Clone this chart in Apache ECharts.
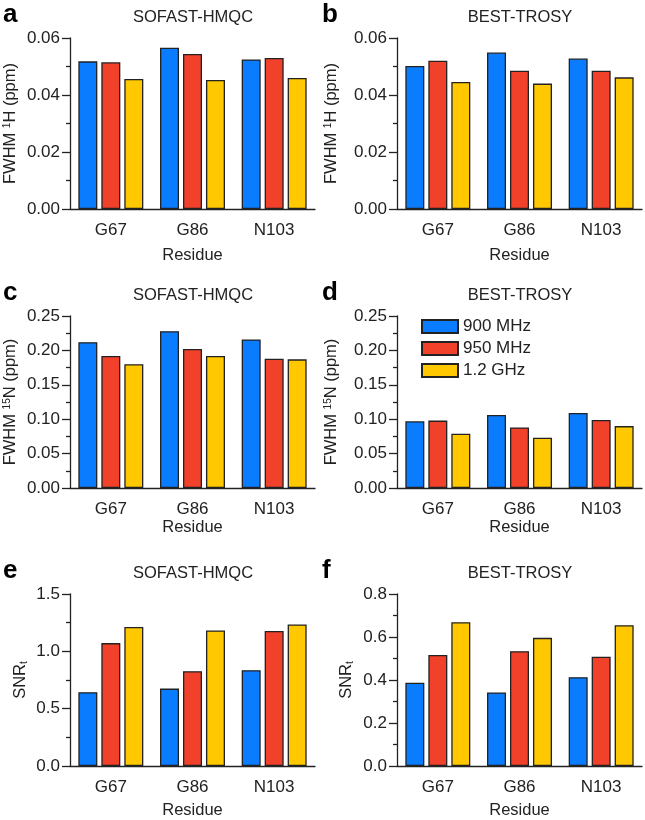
<!DOCTYPE html>
<html>
<head>
<meta charset="utf-8">
<script src="https://cdn.jsdelivr.net/npm/echarts@6/dist/echarts.min.js"></script>
<style>
  html, body { margin: 0; padding: 0; background: #fff; }
  #chart { width: 645px; height: 820px; }
</style>
</head>
<body>
<div id="chart"></div>
<script>
// categories / legend
const residues = ['G67', 'G86', 'N103']
const fields = ['900 MHz', '950 MHz', '1.2 GHz']

// a: SOFAST-HMQC, FWHM 1H (ppm)
const hmqcH1_900 = [0.0518, 0.0566, 0.0525]
const hmqcH1_950 = [0.0515, 0.0544, 0.0530]
const hmqcH1_1200 = [0.0456, 0.0453, 0.0460]
// b: BEST-TROSY, FWHM 1H (ppm)
const trosyH1_900 = [0.0502, 0.0549, 0.0528]
const trosyH1_950 = [0.0520, 0.0485, 0.0485]
const trosyH1_1200 = [0.0446, 0.0440, 0.0462]
// c: SOFAST-HMQC, FWHM 15N (ppm)
const hmqcN15_900 = [0.212, 0.228, 0.216]
const hmqcN15_950 = [0.192, 0.202, 0.188]
const hmqcN15_1200 = [0.180, 0.192, 0.187]
// d: BEST-TROSY, FWHM 15N (ppm)
const trosyN15_900 = [0.097, 0.106, 0.109]
const trosyN15_950 = [0.098, 0.088, 0.099]
const trosyN15_1200 = [0.079, 0.073, 0.090]
// e: SOFAST-HMQC, SNRt
const hmqcSnr_900 = [0.644, 0.675, 0.836]
const hmqcSnr_950 = [1.072, 0.827, 1.177]
const hmqcSnr_1200 = [1.212, 1.182, 1.235]
// f: BEST-TROSY, SNRt
const trosySnr_900 = [0.387, 0.342, 0.413]
const trosySnr_950 = [0.516, 0.534, 0.508]
const trosySnr_1200 = [0.669, 0.596, 0.655]

// y ticks per panel
const yTicksH1 = [0, 0.02, 0.04, 0.06]
const yTicksN15 = [0, 0.05, 0.10, 0.15, 0.20, 0.25]
const yTicksSnrHmqc = [0, 0.5, 1.0, 1.5]
const yTicksSnrTrosy = [0, 0.2, 0.4, 0.6, 0.8]

const colors = ['#0a7cff', '#f2412a', '#ffc800']
const font = 'Liberation Sans, Arial, Helvetica, sans-serif'
const ink = '#222'

const panels = [
  { letter: 'a', title: 'SOFAST-HMQC', left: 70, top: 38, height: 171, ticks: yTicksH1, digits: 2,
    yName: 'FWHM {sup|1}H (ppm)', yGap: 51, xGap: 38, data: [hmqcH1_900, hmqcH1_950, hmqcH1_1200] },
  { letter: 'b', title: 'BEST-TROSY', left: 397, top: 38, height: 171, ticks: yTicksH1, digits: 2,
    yName: 'FWHM {sup|1}H (ppm)', yGap: 57, xGap: 38, data: [trosyH1_900, trosyH1_950, trosyH1_1200] },
  { letter: 'c', title: 'SOFAST-HMQC', left: 70, top: 316, height: 172, ticks: yTicksN15, digits: 2,
    yName: 'FWHM {sup|15}N (ppm)', yGap: 51, xGap: 30, data: [hmqcN15_900, hmqcN15_950, hmqcN15_1200] },
  { letter: 'd', title: 'BEST-TROSY', left: 397, top: 316, height: 172, ticks: yTicksN15, digits: 2,
    yName: 'FWHM {sup|15}N (ppm)', yGap: 57, xGap: 30, data: [trosyN15_900, trosyN15_950, trosyN15_1200] },
  { letter: 'e', title: 'SOFAST-HMQC', left: 70, top: 594, height: 172, ticks: yTicksSnrHmqc, digits: 1,
    yName: 'SNR{sub|t}', yGap: 41, xGap: 36, data: [hmqcSnr_900, hmqcSnr_950, hmqcSnr_1200] },
  { letter: 'f', title: 'BEST-TROSY', left: 397, top: 594, height: 172, ticks: yTicksSnrTrosy, digits: 1,
    yName: 'SNR{sub|t}', yGap: 42, xGap: 36, data: [trosySnr_900, trosySnr_950, trosySnr_1200] }
]

const chart = echarts.init(document.getElementById('chart'), null, { renderer: 'canvas' })

const grid = []
const xAxis = []
const yAxis = []
const series = []
const graphic = []

panels.forEach((p, i) => {
  grid.push({ left: p.left, top: p.top, width: 245, height: p.height })

  xAxis.push({
    type: 'category',
    gridIndex: i,
    data: residues,
    name: 'Residue',
    nameLocation: 'middle',
    nameGap: p.xGap,
    nameTextStyle: { fontFamily: font, fontSize: 16.5, color: ink },
    axisLine: { lineStyle: { color: ink, width: 1.3 } },
    axisTick: { alignWithLabel: true, length: 8, lineStyle: { color: ink, width: 1.3 } },
    axisLabel: { margin: 13, fontFamily: font, fontSize: 17, color: ink }
  })

  const step = p.ticks[1] - p.ticks[0]
  yAxis.push({
    type: 'value',
    gridIndex: i,
    min: p.ticks[0],
    max: p.ticks[p.ticks.length - 1],
    interval: step,
    name: p.yName,
    nameLocation: 'middle',
    nameGap: p.yGap,
    nameRotate: 90,
    nameTextStyle: {
      fontFamily: font, fontSize: 16.5, color: ink,
      rich: {
        sup: { fontFamily: font, fontSize: 10, color: ink, verticalAlign: 'top', lineHeight: 16 },
        sub: { fontFamily: font, fontSize: 10, color: ink, verticalAlign: 'bottom', padding: [7, 0, 0, 0] }
      }
    },
    axisLine: { show: true, lineStyle: { color: ink, width: 1.3 } },
    axisTick: { show: true, length: 8, lineStyle: { color: ink, width: 1.3 } },
    minorTick: { show: true, splitNumber: 2, length: 4, lineStyle: { color: ink, width: 1.3 } },
    splitLine: { show: false },
    axisLabel: {
      margin: 10, fontFamily: font, fontSize: 17, color: ink,
      formatter: v => v.toFixed(p.digits)
    }
  })

  p.data.forEach((vals, k) => {
    series.push({
      name: fields[k],
      type: 'bar',
      xAxisIndex: i,
      yAxisIndex: i,
      data: vals,
      barWidth: 19,
      barGap: '21%',
      itemStyle: { color: colors[k], borderColor: ink, borderWidth: 1.3 },
      emphasis: { disabled: true }
    })
  })

  // panel letter and title
  graphic.push({
    type: 'text',
    left: p.left < 200 ? 3 : 322,
    top: p.top - 36,
    style: { text: p.letter, font: 'bold 26px ' + font, fill: '#000' }
  })
  graphic.push({
    type: 'text',
    x: p.left + 123,
    y: p.top - 20.5,
    style: { text: p.title, font: '16.5px ' + font, fill: ink, align: 'center', verticalAlign: 'middle' }
  })
})

const option = {
  animation: false,
  grid: grid,
  xAxis: xAxis,
  yAxis: yAxis,
  series: series,
  graphic: graphic,
  legend: {
    data: fields,
    orient: 'vertical',
    left: 416,
    top: 313,
    icon: 'rect',
    itemWidth: 36,
    itemHeight: 13,
    itemGap: 5,
    textStyle: { fontFamily: font, fontSize: 17, color: ink }
  }
}

chart.setOption(option)
</script>
</body>
</html>
